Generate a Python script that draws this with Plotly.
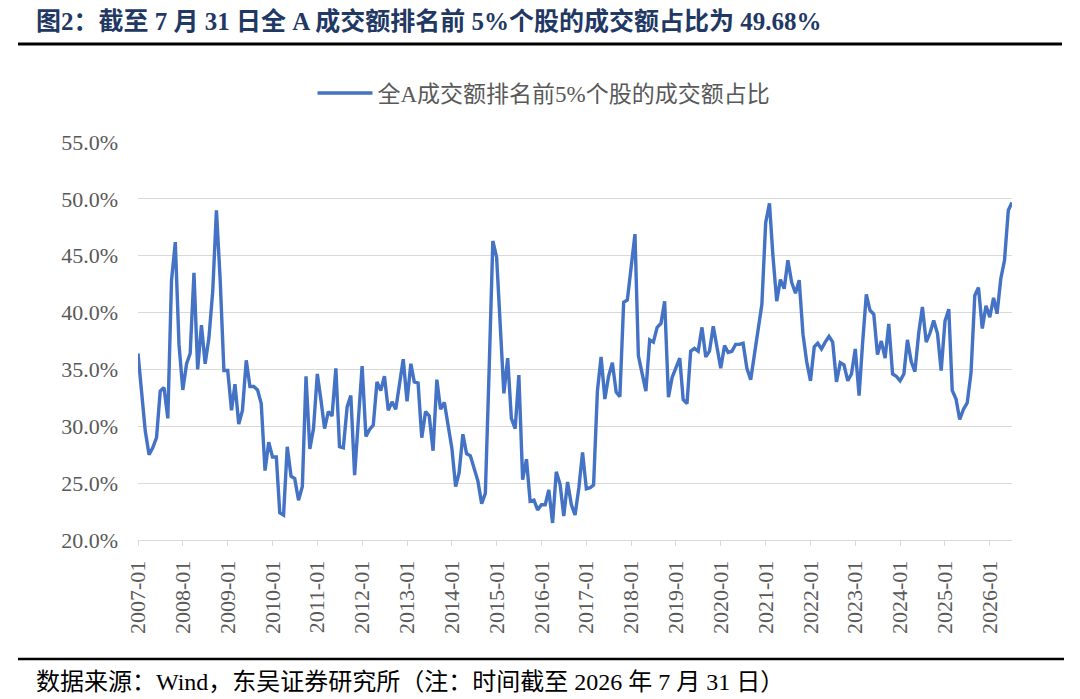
import pandas as pd
import plotly.graph_objects as go

series_name = "全A成交额排名前5%个股的成交额占比"
start_month = "2007-01-01"

values = [
    36.4, 32.5, 29.6, 27.5, 28.1, 29.0, 33.1, 33.4, 30.7, 42.8, 46.2, 37.2,
    33.2, 35.5, 36.4, 43.5, 35.0, 38.9, 35.5, 37.8, 41.9, 49.0, 42.8, 34.9,
    34.9, 31.4, 33.7, 30.2, 31.4, 35.8, 33.5, 33.5, 33.2, 32.0, 26.1, 28.6,
    27.3, 27.3, 22.4, 22.2, 28.2, 25.6, 25.4, 23.5, 24.7, 34.4, 28.0, 29.8,
    34.6, 32.2, 29.8, 31.3, 30.9, 35.1, 28.2, 28.1, 31.7, 32.7, 25.7, 30.5,
    35.3, 29.1, 29.7, 30.1, 33.9, 33.15, 34.4, 31.4, 32.15, 31.5, 34.0, 35.9,
    32.2, 35.5, 33.9, 33.8, 29.0, 31.3, 30.9, 27.85, 34.1, 31.5, 32.1, 30.0,
    28.1, 24.7, 25.9, 29.3, 27.6, 27.4, 26.3, 25.2, 23.2, 24.1, 35.0, 46.3,
    44.85, 39.0, 32.9, 36.0, 30.7, 29.8, 34.5, 25.3, 27.1, 23.4, 23.5, 22.65,
    23.1, 23.1, 24.4, 21.5, 26.0, 24.9, 22.1, 25.1, 23.1, 22.2, 24.6, 27.7,
    24.5, 24.6, 24.85, 33.1, 36.1, 32.4, 34.4, 35.6, 33.0, 32.6, 40.9, 41.1,
    43.8, 46.9, 36.2, 34.6, 33.1, 37.6, 37.4, 38.7, 39.05, 41.0, 32.55, 34.3,
    35.1, 36.0, 32.35, 32.0, 36.6, 36.85, 36.6, 38.7, 36.1, 36.6, 38.8, 37.1,
    35.1, 37.1, 36.5, 36.6, 37.2, 37.2, 37.3, 35.1, 34.1, 36.3, 38.7, 40.7,
    47.9, 49.6, 45.0, 41.0, 42.9, 42.1, 44.6, 42.65, 41.7, 42.85, 38.1, 35.7,
    34.0, 37.0, 37.3, 36.8, 37.4, 37.9, 37.4, 33.9, 35.6, 35.4, 34.0, 34.6,
    36.8, 32.7, 37.2, 41.6, 40.2, 39.85, 36.3, 37.5, 36.0, 39.0, 34.6, 34.4,
    34.0, 34.6, 37.6, 35.7, 34.8, 38.2, 40.5, 37.4, 38.2, 39.3, 38.15, 34.9,
    39.25, 40.3, 33.15, 32.4, 30.6, 31.5, 32.05, 34.7, 41.5, 42.2, 38.6, 40.6,
    39.6, 41.3, 39.9, 43.0, 44.6, 49.0, 49.68,
]
months = pd.date_range(start_month, periods=len(values), freq="MS")

y_ticks = [20, 25, 30, 35, 40, 45, 50, 55]

title_text = "图2：截至 7 月 31 日全 A 成交额排名前 5%个股的成交额占比为 49.68%"
source_text = "数据来源：Wind，东吴证券研究所（注：时间截至 2026 年 7 月 31 日）"

# page body has an 8px margin; the figure is sized/offset to compensate
OFF = 8
W, H = 1080, 699
L, R, T, B = 138, 68, 142, 159
pw, ph = W - L - R, H - T - B

def px_x(x):
    return (x - L) / pw

def px_y(y):
    return (H - B - y) / ph

serif = "Liberation Serif, Times New Roman, Noto Sans CJK SC, serif"
gray = "#595959"

fig = go.Figure()
fig.add_trace(go.Scatter(
    x=months, y=values, mode="lines", name=series_name,
    line=dict(color="#4472C4", width=3.4),
    hoverinfo="skip",
))

fig.update_layout(
    width=W - OFF, height=H - OFF,
    margin=dict(l=L - OFF, r=R, t=T - OFF, b=B),
    paper_bgcolor="white", plot_bgcolor="white",
    showlegend=True,
    legend=dict(
        orientation="h", x=px_x(544), xanchor="center",
        y=px_y(93), yanchor="middle",
        font=dict(family=serif, size=23, color=gray),
        itemwidth=55, bgcolor="rgba(0,0,0,0)",
    ),
    xaxis=dict(
        type="date",
        range=[months[0], months[-1]],
        tickformat="%Y-%m", dtick="M12", tick0=start_month,
        tickangle=-90,
        ticks="outside", ticklen=5, tickcolor="#d9d9d9",
        showline=True, linecolor="#d9d9d9", linewidth=1,
        showgrid=False, zeroline=False,
        ticklabelstandoff=6,
        tickfont=dict(family=serif, size=22, color=gray),
    ),
    yaxis=dict(
        range=[20, 55], tickvals=y_ticks,
        ticktext=[f"{v:.1f}%" for v in y_ticks],
        showgrid=True, gridcolor="#d9d9d9", gridwidth=1,
        zeroline=False, showline=False, ticks="",
        ticklabelstandoff=19,
        tickfont=dict(family=serif, size=22, color=gray),
    ),
    annotations=[
        dict(text="<b>" + title_text + "</b>", xref="paper", yref="paper",
             x=px_x(34), y=px_y(21), xanchor="left", yanchor="middle",
             showarrow=False,
             font=dict(family=serif, size=25, color="#1F3864")),
        dict(text=source_text, xref="paper", yref="paper",
             x=px_x(34), y=px_y(682), xanchor="left", yanchor="middle",
             showarrow=False,
             font=dict(family=serif, size=24, color="#000000")),
    ],
    shapes=[
        dict(type="line", xref="paper", yref="paper",
             x0=px_x(18), x1=px_x(1062), y0=px_y(44), y1=px_y(44),
             line=dict(color="#000000", width=3)),
        dict(type="line", xref="paper", yref="paper",
             x0=px_x(18), x1=px_x(1064), y0=px_y(659), y1=px_y(659),
             line=dict(color="#000000", width=2.5)),
    ],
)

fig.write_html("out.html")
